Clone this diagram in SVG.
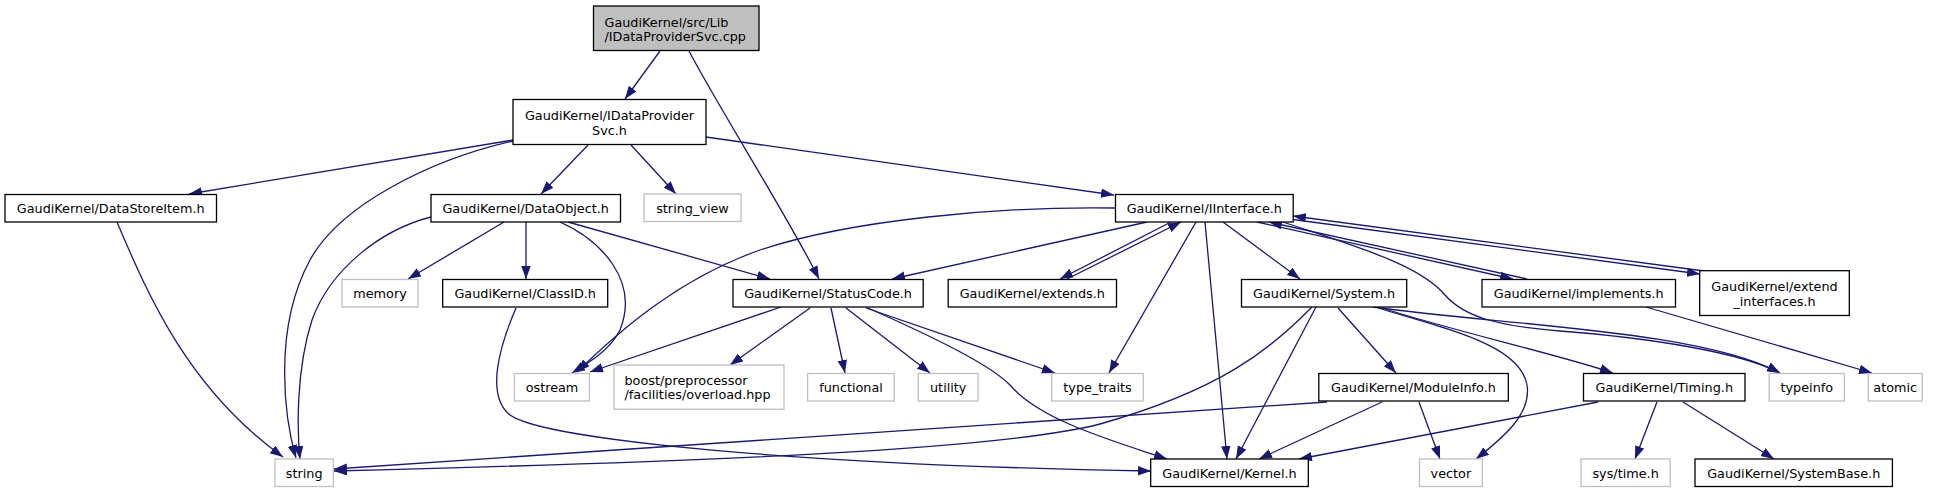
<svg xmlns="http://www.w3.org/2000/svg" width="1940" height="493" viewBox="0 0 1940 493">
<style>
.n rect{fill:#fff;stroke:#000;stroke-width:1.3}
.n.s rect{stroke:#bfbfbf}
.n.r rect{fill:#bfbfbf}
.n text{font-family:"DejaVu Sans","Liberation Sans",sans-serif;font-size:12.8px;fill:#000;text-anchor:middle}
.n text.l{text-anchor:start}
#edges path{fill:none;stroke:#191970;stroke-width:1.3;marker-end:url(#a)}
</style>
<defs>
<marker id="a" markerWidth="14" markerHeight="10" refX="13" refY="4.75" orient="auto" markerUnits="userSpaceOnUse">
<path d="M0,0 L13,4.75 L0,9.5 z" fill="#191970"/>
</marker>
</defs>
<rect width="1940" height="493" fill="#fff"/>
<g id="edges">
<path d="M660,51 L625,99"/>
<path d="M689,51 C720,110 790,220 819,279"/>
<path d="M513,140 L189,194"/>
<path d="M513,141 C430,160 340,205 310,260 C272,330 285,420 296,458"/>
<path d="M431,217 C380,230 330,270 312,320 C296,370 297,430 300,459"/>
<path d="M117,222 C150,300 190,390 283,457"/>
<path d="M588,145 L541,194"/>
<path d="M631,145 L676,194"/>
<path d="M706,137 L1114,195"/>
<path d="M504,222 L408,279"/>
<path d="M526,222 L526,279"/>
<path d="M560,222 C600,240 640,280 620,330 C610,350 590,362 572,373"/>
<path d="M568,222 L770,279"/>
<path d="M1116,208 C1000,206 850,220 760,250 C680,278 620,330 577,372"/>
<path d="M781,307 L590,372"/>
<path d="M810,308 L730,365"/>
<path d="M831,308 L845,373"/>
<path d="M846,308 L930,373"/>
<path d="M866,308 L1055,373"/>
<path d="M868,308 C940,340 990,365 1010,385 C1040,420 1110,440 1167,459"/>
<path d="M516,308 C500,345 485,395 510,415 C545,440 800,465 1151,471"/>
<path d="M1147,222 L892,279"/>
<path d="M1171,222 L1060,279"/>
<path d="M1067,279 L1181,222"/>
<path d="M1223,222 L1300,279"/>
<path d="M1196,222 L1109,373"/>
<path d="M1205,222 L1227,459"/>
<path d="M1257,222 L1513,279"/>
<path d="M1527,279 L1269,222"/>
<path d="M1293,219.5 L1700,274"/>
<path d="M1704,271 L1293,216"/>
<path d="M1283,222 C1360,248 1420,265 1445,295 C1465,318 1500,326 1560,331 C1650,338 1740,352 1780,373"/>
<path d="M1646,307 L1872,373"/>
<path d="M1312,307 C1270,350 1220,390 1100,424 C1000,450 700,462 334,471"/>
<path d="M1327,402 L334,469"/>
<path d="M1316,307 L1236,459"/>
<path d="M1338,308 L1396,373"/>
<path d="M1378,308 C1450,330 1520,345 1527,385 C1532,415 1500,440 1476,459"/>
<path d="M1382,308 C1450,330 1560,355 1613,373"/>
<path d="M1373,307 C1500,325 1700,330 1780,373"/>
<path d="M1382,402 L1259,459"/>
<path d="M1419,402 L1440,459"/>
<path d="M1598,402 L1299,459"/>
<path d="M1657,402 L1635,459"/>
<path d="M1683,402 L1774,459"/>
</g>
<g id="root" class="n r"><rect x="593.5" y="6" width="165.5" height="44.5"/><text class="l" x="604.5" y="26.5">GaudiKernel/src/Lib</text><text class="l" x="604.5" y="41">/IDataProviderSvc.cpp</text></g>
<g id="idps" class="n"><rect x="513" y="99.5" width="193" height="45"/><text x="609.5" y="120">GaudiKernel/IDataProvider</text><text x="609.5" y="134.5">Svc.h</text></g>
<g id="datastoreitem" class="n"><rect x="5" y="194.5" width="211.5" height="27.5"/><text x="110.7" y="213">GaudiKernel/DataStoreItem.h</text></g>
<g id="dataobject" class="n"><rect x="431" y="194.5" width="189.5" height="27.5"/><text x="525.7" y="213">GaudiKernel/DataObject.h</text></g>
<g id="string_view" class="n s"><rect x="644" y="194" width="97" height="27.5"/><text x="692.5" y="212.5">string_view</text></g>
<g id="iinterface" class="n"><rect x="1115.5" y="194.5" width="177.7" height="27.5"/><text x="1204.3" y="213">GaudiKernel/IInterface.h</text></g>
<g id="memory" class="n s"><rect x="342" y="279.5" width="76" height="27.5"/><text x="380" y="298">memory</text></g>
<g id="classid" class="n"><rect x="442.7" y="279.5" width="165" height="27.5"/><text x="525.2" y="298">GaudiKernel/ClassID.h</text></g>
<g id="statuscode" class="n"><rect x="733" y="279.5" width="190.2" height="27.5"/><text x="828.1" y="298">GaudiKernel/StatusCode.h</text></g>
<g id="extends" class="n"><rect x="948.2" y="279.5" width="168.3" height="27.5"/><text x="1032.3" y="298">GaudiKernel/extends.h</text></g>
<g id="system" class="n"><rect x="1241.5" y="279.5" width="165.2" height="27.5"/><text x="1324.1" y="298">GaudiKernel/System.h</text></g>
<g id="implements" class="n"><rect x="1482" y="279.5" width="193.5" height="27.5"/><text x="1578.7" y="298">GaudiKernel/implements.h</text></g>
<g id="extend_interfaces" class="n"><rect x="1699.7" y="270.7" width="149.6" height="44.8"/><text x="1774.5" y="291">GaudiKernel/extend</text><text x="1774.5" y="305.5">_interfaces.h</text></g>
<g id="ostream" class="n s"><rect x="514.4" y="373.5" width="75" height="27.5"/><text x="552" y="392">ostream</text></g>
<g id="boost" class="n s"><rect x="614" y="365" width="170" height="44.3"/><text class="l" x="624.5" y="384.5">boost/preprocessor</text><text class="l" x="624.5" y="399">/facilities/overload.hpp</text></g>
<g id="functional" class="n s"><rect x="807.6" y="373.5" width="86.6" height="27.5"/><text x="851" y="392">functional</text></g>
<g id="utility" class="n s"><rect x="918.3" y="373.5" width="59.8" height="27.5"/><text x="948.2" y="392">utility</text></g>
<g id="type_traits" class="n s"><rect x="1051.8" y="373.5" width="91.5" height="27.5"/><text x="1097.5" y="392">type_traits</text></g>
<g id="moduleinfo" class="n"><rect x="1318.8" y="373.5" width="189.5" height="27.5"/><text x="1413.5" y="392">GaudiKernel/ModuleInfo.h</text></g>
<g id="timing" class="n"><rect x="1583.5" y="373.5" width="161.5" height="27.5"/><text x="1664.3" y="392">GaudiKernel/Timing.h</text></g>
<g id="typeinfo" class="n s"><rect x="1769.2" y="373.5" width="75.2" height="27.5"/><text x="1806.8" y="392">typeinfo</text></g>
<g id="atomic" class="n s"><rect x="1868.2" y="373.5" width="54" height="27.5"/><text x="1895.2" y="392">atomic</text></g>
<g id="string" class="n s"><rect x="275" y="459" width="58.3" height="27.5"/><text x="304.2" y="477.5">string</text></g>
<g id="kernel" class="n"><rect x="1150.7" y="459" width="157.6" height="27.5"/><text x="1229.5" y="477.5">GaudiKernel/Kernel.h</text></g>
<g id="vector" class="n s"><rect x="1419.5" y="459" width="62.8" height="27.5"/><text x="1450.9" y="477.5">vector</text></g>
<g id="systime" class="n s"><rect x="1581" y="459" width="89.2" height="27.5"/><text x="1625.6" y="477.5">sys/time.h</text></g>
<g id="systembase" class="n"><rect x="1695" y="459" width="197.4" height="27.5"/><text x="1793.7" y="477.5">GaudiKernel/SystemBase.h</text></g>
</svg>
